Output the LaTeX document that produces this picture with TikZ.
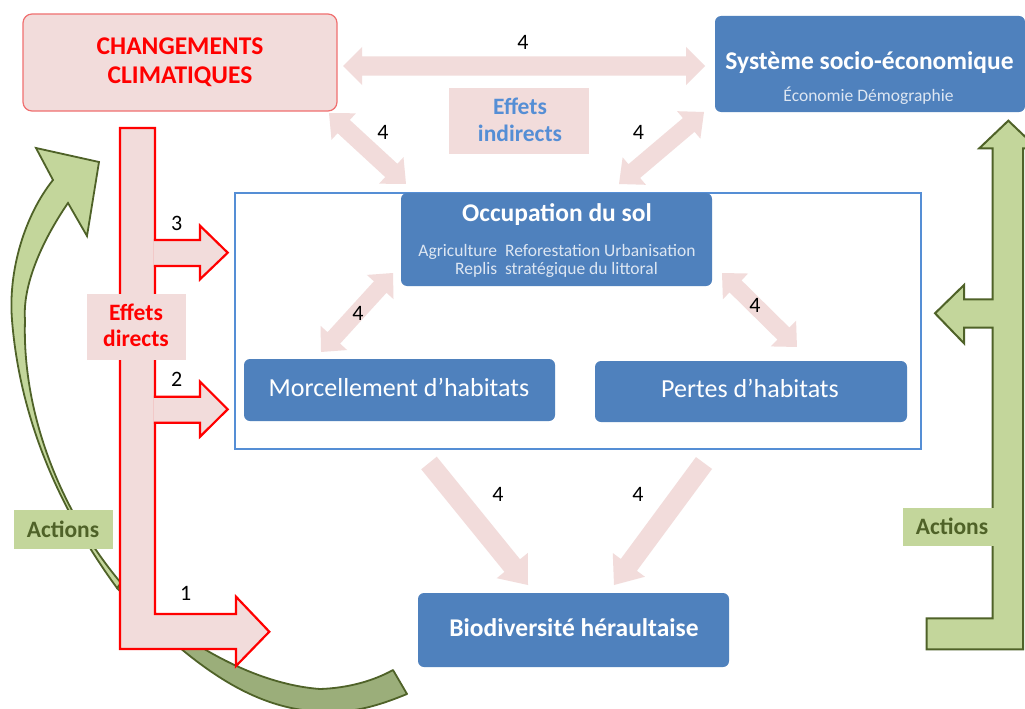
\documentclass[tikz,border=0pt]{standalone}
\usepackage{fontspec}
\setmainfont{Carlito}
\usetikzlibrary{calc}
\definecolor{pinkc}{HTML}{F2DCDB}
\definecolor{bluec}{HTML}{4F81BD}
\definecolor{framec}{HTML}{558ED5}
\definecolor{redc}{HTML}{FF0000}
\definecolor{ccborder}{HTML}{F07070}
\definecolor{greenf}{HTML}{C3D69B}
\definecolor{greend}{HTML}{4F6228}
\definecolor{greenb}{HTML}{9BAE7A}
\definecolor{subc}{HTML}{DDE6F2}
\definecolor{eitext}{HTML}{558ED5}
\newcommand\ftitle{\fontsize{25.5}{30}\selectfont\bfseries}
\newcommand\freg{\fontsize{26}{30}\selectfont}
\newcommand\flab{\fontsize{23.5}{28}\selectfont\bfseries}
\newcommand\fnum{\fontsize{22}{26}\selectfont}
\newcommand\fsubt{\fontsize{17.5}{20}\selectfont}
% double-headed pink arrow: from, to, shaft half width, head half width, head length
\newcommand\pkdbl[5]{%
  \path (#1); \pgfgetlastxy{\pkax}{\pkay}%
  \path (#2); \pgfgetlastxy{\pkbx}{\pkby}%
  \pgfmathsetmacro\pkang{atan2(\pkby-\pkay,\pkbx-\pkax)}%
  \pgfmathsetmacro\pklen{veclen(\pkbx-\pkax,\pkby-\pkay)}%
  \fill[pinkc, shift={(\pkax,\pkay)}, rotate=\pkang] (0,0) -- (#5,#4) -- (#5,#3) -- ({\pklen-#5},#3) -- ({\pklen-#5},#4) -- (\pklen,0) -- ({\pklen-#5},-#4) -- ({\pklen-#5},-#3) -- (#5,-#3) -- (#5,-#4) -- cycle;
}
\newcommand\pksgl[5]{%
  \path (#1); \pgfgetlastxy{\pkax}{\pkay}%
  \path (#2); \pgfgetlastxy{\pkbx}{\pkby}%
  \pgfmathsetmacro\pkang{atan2(\pkby-\pkay,\pkbx-\pkax)}%
  \pgfmathsetmacro\pklen{veclen(\pkbx-\pkax,\pkby-\pkay)}%
  \fill[pinkc, shift={(\pkax,\pkay)}, rotate=\pkang] (0,#3) -- ({\pklen-#5},#3) -- ({\pklen-#5},#4) -- (\pklen,0) -- ({\pklen-#5},-#4) -- ({\pklen-#5},-#3) -- (0,-#3) -- cycle;
}
\begin{document}
\begin{tikzpicture}[x=1pt,y=-1pt,
  txt/.style={inner sep=0pt, anchor=base},
  bluebox/.style={fill=bluec, rounded corners=6pt, inner sep=0pt},
  pinkbox/.style={fill=pinkc, inner sep=0pt},
  greenbox/.style={fill=greenf, inner sep=0pt},
  numlab/.style={txt, font=\fnum, text=black},
  redline/.style={draw=redc, line width=2.2pt, line join=miter},
  greenline/.style={draw=greend, line width=2pt, line join=miter},
]
\useasboundingbox (0,0) rectangle (1025,709);
\clip (0,0) rectangle (1025,709);
\fill[white] (0,0) rectangle (1025,709);

% ---- green curved arrow (left) ----
\filldraw[fill=greenb, draw=greend, line width=1.8pt, line join=round]
 (121,583) .. controls (160,625) and (240,683) .. (320,689)
 .. controls (350,688) and (375,680) .. (393,670)
 -- (407,694)
 .. controls (385,703) and (360,712) .. (330,712)
 .. controls (260,712) and (200,675) .. (117,588) -- cycle;
\filldraw[fill=greenf, draw=greend, line width=1.8pt, line join=miter]
 (117,588) .. controls (60,510) and (20,420) .. (12,320)
 .. controls (8,270) and (25,215) .. (53,180)
 -- (36,148) -- (99,162) -- (87,236) -- (68,203)
 .. controls (48,232) and (22,280) .. (25,320)
 .. controls (22,410) and (58,508) .. (121,583) -- cycle;

% ---- red L arrow ----
\filldraw[fill=pinkc, redline]
 (120,128) -- (155,128) -- (155,614) -- (236,614) -- (236,596.7) -- (269.3,631.7)
 -- (236,666) -- (236,649) -- (120,649) -- cycle;
\fill[pinkc] (153.5,240) -- (200,240) -- (200,225.7) -- (227.7,252.7) -- (200,279.3) -- (200,266) -- (153.5,266) -- cycle;
\draw[redline] (153.9,240) -- (200,240) -- (200,225.7) -- (227.7,252.7) -- (200,279.3) -- (200,266) -- (153.9,266);
\fill[pinkc] (153.5,396.7) -- (200,396.7) -- (200,381.7) -- (227.7,409.3) -- (200,436.7) -- (200,422.7) -- (153.5,422.7) -- cycle;
\draw[redline] (153.9,396.7) -- (200,396.7) -- (200,381.7) -- (227.7,409.3) -- (200,436.7) -- (200,422.7) -- (153.9,422.7);

\node[pinkbox, minimum width=99pt, minimum height=66pt] (ed) at (136.5,327) {};
\node[txt, font=\flab, text=redc] (ed1) at (136,320) {Effets};
\node[txt, font=\flab, text=redc] (ed2) at (136,346.7) {directs};

\node[greenbox, minimum width=99pt, minimum height=39pt] (actL) at (63.5,529.5) {};
\node[txt, font=\flab, text=greend] (al1) at (63,537.3) {Actions};

% ---- boxes ----
\node[fill=pinkc, draw=ccborder, line width=1.2pt, rounded corners=9pt, inner sep=0pt,
      minimum width=314pt, minimum height=97pt] (cc) at (180,62.5) {};
\node[txt, font=\ftitle, text=redc] (cc1) at (180,54.5) {CHANGEMENTS};
\node[txt, font=\ftitle, text=redc] (cc2) at (180,83) {CLIMATIQUES};

\node[bluebox, minimum width=310pt, minimum height=96pt] (sse) at (870,64) {};
\node[txt, font=\ftitle, text=white] (sse1) at (869.5,69.5) {Système socio-économique};
\node[txt, font=\fsubt, text=subc] (sse2) at (868.5,101) {Économie Démographie};

\node[pinkbox, minimum width=140pt, minimum height=66pt] (ei) at (519,121) {};
\node[txt, font=\flab, text=eitext] (ei1) at (520,114) {Effets};
\node[txt, font=\flab, text=eitext] (ei2) at (520,141.5) {indirects};

% ---- pink arrows ----
\coordinate (a1) at (343,66);   \coordinate (b1) at (705,66);
\coordinate (a2) at (329,113);  \coordinate (b2) at (406,184);
\coordinate (a3) at (704,112);  \coordinate (b3) at (619,184);
\coordinate (a4) at (393,273);  \coordinate (b4) at (321,352);
\coordinate (a5) at (722,273);  \coordinate (b5) at (797,347);
\coordinate (a6) at (429,463);  \coordinate (b6) at (528,585);
\coordinate (a7) at (704,463);  \coordinate (b7) at (614,585);
\pkdbl{a1}{b1}{9.5}{19}{19}
\pkdbl{a2}{b2}{9}{18}{20}
\pkdbl{a3}{b3}{9}{18}{20}
\pkdbl{a4}{b4}{8.5}{18}{19}
\pkdbl{a5}{b5}{8.5}{18}{19}
\pksgl{a6}{b6}{10}{20}{25}
\pksgl{a7}{b7}{10}{20}{25}

% ---- frame and inner boxes ----
\node[draw=framec, line width=2pt, inner sep=0pt, minimum width=686pt, minimum height=256pt] (frame) at (578,321) {};

\node[bluebox, minimum width=311pt, minimum height=93pt] (occ) at (556.5,239.5) {};
\node[txt, font=\ftitle, text=white] (occ1) at (557,221.5) {Occupation du sol};
\node[txt, font=\fsubt, text=subc] (occ2) at (557,256) {Agriculture\ \ Reforestation Urbanisation};
\node[txt, font=\fsubt, text=subc] (occ3) at (556.5,274.3) {Replis\ \ stratégique du littoral};

\node[bluebox, minimum width=311pt, minimum height=62pt] (mor) at (399.5,390) {};
\node[txt, font=\freg, text=white] (mor1) at (399,396.7) {Morcellement d’habitats};

\node[bluebox, minimum width=312pt, minimum height=61pt] (per) at (751,391.5) {};
\node[txt, font=\freg, text=white] (per1) at (750,397.5) {Pertes d’habitats};

\node[bluebox, minimum width=311pt, minimum height=74pt] (bio) at (573.5,630) {};
\node[txt, font=\ftitle, text=white] (bio1) at (574,636.7) {Biodiversité héraultaise};

% ---- right green arrow ----
\filldraw[fill=greenf, greenline]
 (1008.3,120.7) -- (1037.3,148.3) -- (1023,148.3) -- (1023,649.3) -- (926.7,649.3) -- (926.7,618.3)
 -- (992.7,618.3) -- (992.7,327.7) -- (964,327.7) -- (964,343.3) -- (935,313.3) -- (964,285)
 -- (964,299.3) -- (992.7,299.3) -- (992.7,148.3) -- (979.3,148.3) -- cycle;
\node[greenbox, minimum width=91pt, minimum height=38pt] (actR) at (948.5,527) {};
\node[txt, font=\flab, text=greend] (ar1) at (952,534.3) {Actions};

% ---- numbers ----
\node[numlab] (n1) at (523,49.5) {4};
\node[numlab] (n2) at (383,139) {4};
\node[numlab] (n3) at (638.5,139) {4};
\node[numlab] (n4) at (358,320) {4};
\node[numlab] (n5) at (755,312.7) {4};
\node[numlab] (n6) at (498,501.7) {4};
\node[numlab] (n7) at (638,501.7) {4};
\node[numlab] (n8) at (176.7,230) {3};
\node[numlab] (n9) at (176.7,386.7) {2};
\node[numlab] (n10) at (185.7,600) {1};
\end{tikzpicture}
\end{document}
